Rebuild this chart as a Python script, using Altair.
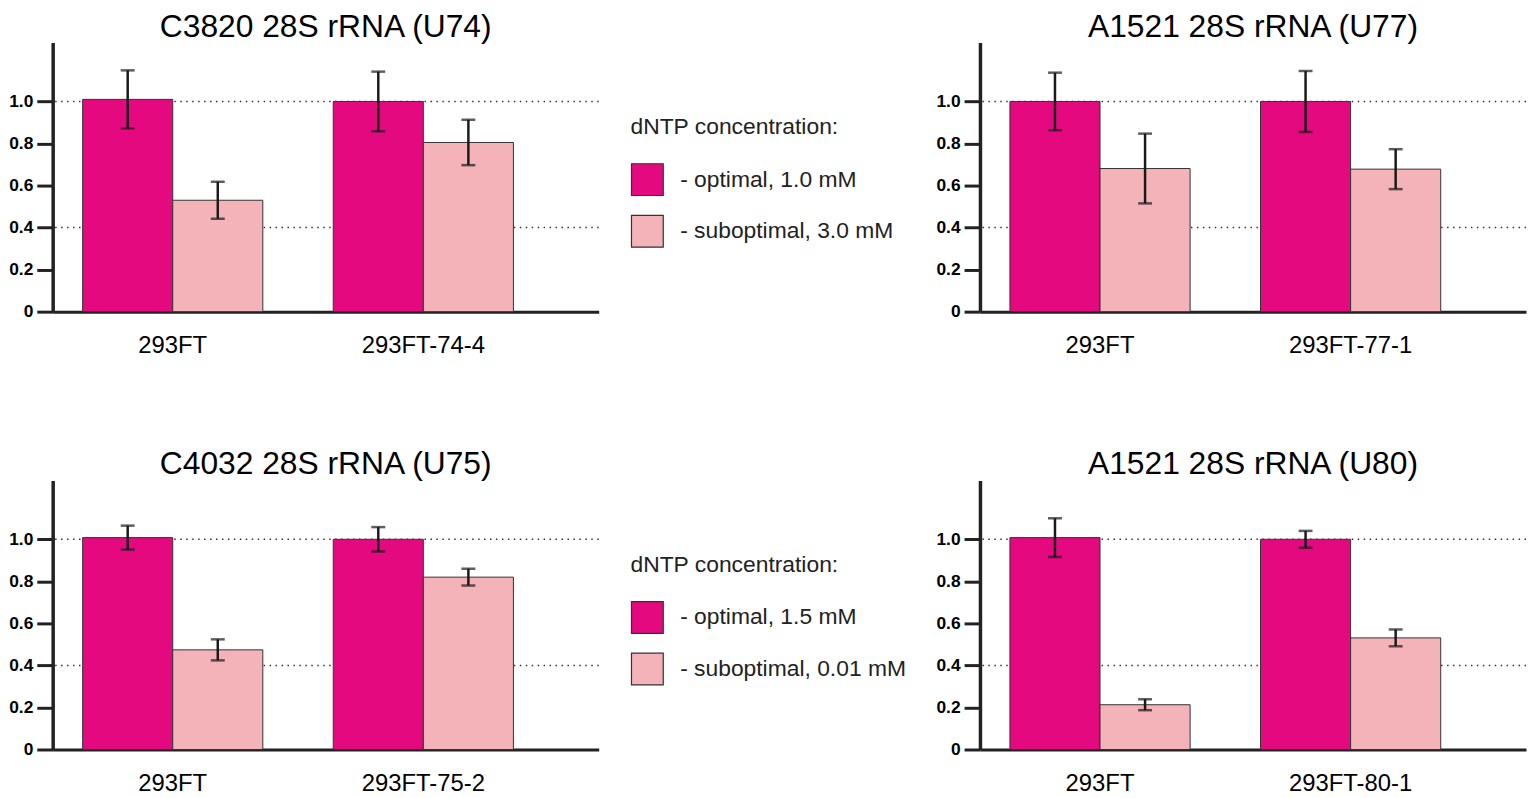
import altair as alt
import pandas as pd

# ---- data ----
titles = ["C3820 28S rRNA (U74)", "A1521 28S rRNA (U77)",
          "C4032 28S rRNA (U75)", "A1521 28S rRNA (U80)"]
cell_lines = [["293FT", "293FT-74-4"], ["293FT", "293FT-77-1"],
              ["293FT", "293FT-75-2"], ["293FT", "293FT-80-1"]]
optimal_mean = [[1.01, 1.00], [1.00, 1.00], [1.008, 1.00], [1.008, 1.00]]
optimal_err = [[0.138, 0.142], [0.137, 0.145], [0.057, 0.058], [0.092, 0.040]]
suboptimal_mean = [[0.530, 0.805], [0.681, 0.678], [0.474, 0.820], [0.213, 0.531]]
suboptimal_err = [[0.088, 0.108], [0.166, 0.095], [0.050, 0.040], [0.026, 0.040]]
series_keys = ["optimal", "suboptimal"]
legend_title = "\u00a0dNTP concentration:"
legend_labels_top = ["- optimal, 1.0 mM", "- suboptimal, 3.0 mM"]
legend_labels_bottom = ["- optimal, 1.5 mM", "- suboptimal, 0.01 mM"]
gridlines = [0.4, 1.0]
y_ticks = [0, 0.2, 0.4, 0.6, 0.8, 1.0]

MAGENTA = "#E5097F"
PINK = "#F4B3B8"
DARK = "#222222"
FONT = "Liberation Sans"

yscale = alt.Scale(domain=[0, 1.28], nice=False, zero=True)
xscale = alt.Scale(paddingInner=0.281, paddingOuter=0.23, align=0.26)
xoscale = alt.Scale(paddingInner=0, paddingOuter=0)

yaxis = alt.Axis(values=y_ticks, title=None, grid=False,
                 labelExpr="datum.value == 0 ? '0' : format(datum.value, '.1f')",
                 labelFont=FONT, labelFontWeight="bold", labelFontSize=17.5,
                 labelColor="black", labelPadding=4,
                 tickSize=16, tickWidth=3, tickColor=DARK,
                 domainColor=DARK, domainWidth=3.5)
xaxis = alt.Axis(title=None, labelAngle=0, ticks=False, tickSize=0,
                 labelPadding=22, labelFont=FONT, labelFontSize=24,
                 labelColor="black", domainColor=DARK, domainWidth=3)


def panel(i, labels, show_legend):
    rows = []
    for j, cat in enumerate(cell_lines[i]):
        rows.append(dict(cat=cat, series=series_keys[0], label=labels[0],
                         value=optimal_mean[i][j], err=optimal_err[i][j]))
        rows.append(dict(cat=cat, series=series_keys[1], label=labels[1],
                         value=suboptimal_mean[i][j], err=suboptimal_err[i][j]))
    df = pd.DataFrame(rows)
    df["lo"] = df["value"] - df["err"]
    df["hi"] = df["value"] + df["err"]

    x = alt.X("cat:N", sort=cell_lines[i], scale=xscale, axis=xaxis)
    xo = alt.XOffset("series:N", sort=series_keys, scale=xoscale)

    if show_legend:
        legend = alt.Legend(orient="none", legendX=582, legendY=74,
                            title=legend_title, titleFont=FONT, titleFontSize=23,
                            titleFontWeight="normal", titleColor=DARK,
                            titlePadding=24, titleLimit=500,
                            labelFont=FONT, labelFontSize=23,
                            labelColor=DARK, labelOffset=16, labelLimit=400,
                            symbolType="square", symbolSize=1024,
                            symbolStrokeColor="#333333", symbolStrokeWidth=1.2,
                            rowPadding=14, padding=0)
    else:
        legend = None

    grid = alt.Chart(pd.DataFrame({"g": gridlines})).mark_rule(
        color="#333333", strokeWidth=1.5, strokeDash=[1.5, 4.5]
    ).encode(y=alt.Y("g:Q", scale=yscale, axis=yaxis))

    base = alt.Chart(df)
    bars = base.mark_bar(stroke="#333333", strokeWidth=1).encode(
        x=x, xOffset=xo,
        y=alt.Y("value:Q", scale=yscale, axis=yaxis),
        color=alt.Color("label:N", scale=alt.Scale(domain=labels, range=[MAGENTA, PINK]),
                        legend=legend),
    )
    stems = base.mark_rule(color="#1a1a1a", strokeWidth=2.5).encode(
        x=x, xOffset=xo,
        y=alt.Y("lo:Q", scale=yscale, axis=yaxis), y2="hi:Q")
    caps_lo = base.mark_tick(color="#1a1a1a", thickness=2.5, size=14).encode(
        x=x, xOffset=xo, y=alt.Y("lo:Q", scale=yscale, axis=yaxis))
    caps_hi = base.mark_tick(color="#1a1a1a", thickness=2.5, size=14).encode(
        x=x, xOffset=xo, y=alt.Y("hi:Q", scale=yscale, axis=yaxis))

    return alt.layer(grid, bars, stems, caps_lo, caps_hi).properties(
        width=550, height=271,
        title=alt.TitleParams(text=titles[i], font=FONT, fontSize=32,
                              fontWeight="normal", color="black",
                              anchor="middle", frame="group",
                              baseline="alphabetic", offset=-26),
    )


p0 = panel(0, legend_labels_top, True)
p1 = panel(1, legend_labels_top, False)
p2 = panel(2, legend_labels_bottom, True)
p3 = panel(3, legend_labels_bottom, False)

chart = alt.concat(
    p0, p1, p2, p3, columns=2, bounds="flush",
    spacing=alt.RowColnumber(row=170, column=384),
).resolve_scale(
    color="independent", x="independent", y="independent"
).properties(padding=0).configure_view(stroke=None)

chart.save("out.html", embed_options={"renderer": "svg", "actions": False})
